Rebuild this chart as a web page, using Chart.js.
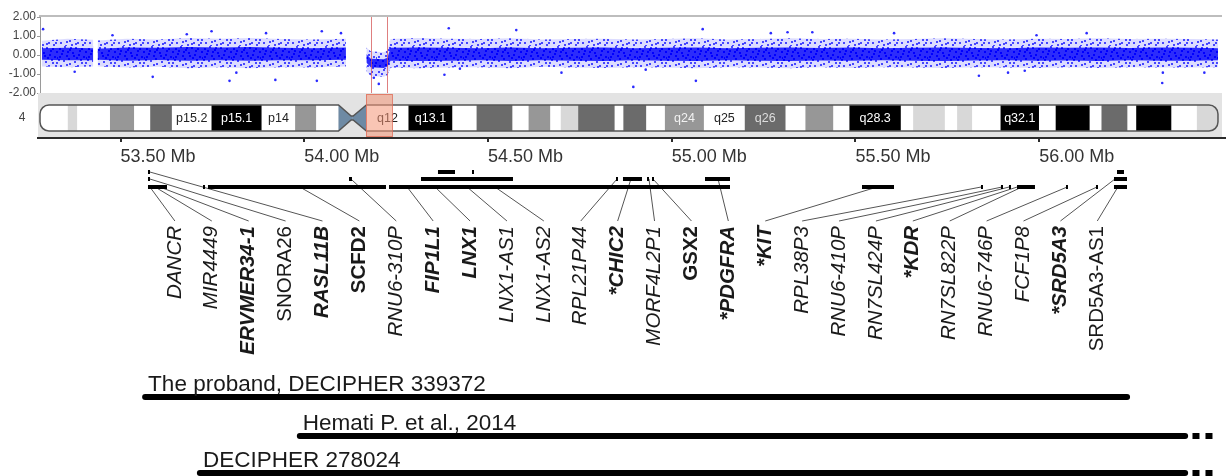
<!DOCTYPE html>
<html>
<head>
<meta charset="utf-8">
<title>4q12 deletion</title>
<script src="https://cdn.jsdelivr.net/npm/chart.js@4.4.1/dist/chart.umd.min.js"></script>
<style>
  body { margin: 0; background: #fff; }
  #figure { position: relative; width: 1226px; height: 476px; overflow: hidden; }
  #figure canvas { position: absolute; left: 0; }
</style>
</head>
<body>
<div id="figure">
  <canvas id="ratioChart" width="1226" height="140" style="top:0"></canvas>
  <canvas id="axisChart" width="1226" height="80" style="top:100px"></canvas>
  <canvas id="geneChart" width="1226" height="336" style="top:140px"></canvas>
</div>
<script>
// ---- chr4 array CGH, log2 ratio (x = position on chr4, Mb) ----
var chrLength = 190.2;
var bandPos = [0.3, 4.5, 8.6, 8.9, 9.3, 14, 19, 24, 29, 34, 39, 44, 49.4, 51, 52.7, 53.4, 55.5, 56.1, 56.6,
  61, 66, 71, 76, 81, 86, 91, 96, 101, 106, 111, 116, 121, 126, 131, 136, 141, 146, 151, 156, 161,
  166, 171, 176, 181, 186, 190.2];
// dense part of the probe cloud (core) and the sparse edge (halo)
var haloHi = [0.75, 0.85, 0.80, null, 0.76, 0.85, 0.82, 0.90, 0.86, 0.90, 0.84, 0.82, 0.85, null, 0.40,
  0.20, 0.15, 0.25, 0.84, 0.90, 0.86, 0.84, 0.88, 0.82, 0.84, 0.86, 0.82, 0.84, 0.88, 0.82,
  0.84, 0.88, 0.84, 0.86, 0.82, 0.84, 0.88, 0.84, 0.82, 0.86, 0.84, 0.88, 0.84, 0.86, 0.84, 0.82];
var coreHi = [0.35, 0.38, 0.35, null, 0.33, 0.40, 0.38, 0.42, 0.40, 0.42, 0.38, 0.36, 0.40, null, 0.05,
  -0.20, -0.22, -0.15, 0.38, 0.40, 0.38, 0.36, 0.40, 0.35, 0.38, 0.40, 0.36, 0.38, 0.40, 0.36,
  0.38, 0.40, 0.37, 0.39, 0.36, 0.38, 0.40, 0.37, 0.36, 0.39, 0.38, 0.40, 0.37, 0.39, 0.38, 0.36];
var coreLo = [-0.25, -0.28, -0.27, null, -0.25, -0.30, -0.26, -0.30, -0.28, -0.30, -0.27, -0.28, -0.25, null, -0.40,
  -0.65, -0.68, -0.60, -0.30, -0.32, -0.30, -0.28, -0.32, -0.27, -0.30, -0.31, -0.28, -0.30, -0.32, -0.28,
  -0.30, -0.31, -0.29, -0.30, -0.28, -0.30, -0.31, -0.29, -0.28, -0.30, -0.29, -0.31, -0.28, -0.30, -0.30, -0.28];
var haloLo = [-0.60, -0.65, -0.60, null, -0.60, -0.66, -0.62, -0.70, -0.64, -0.70, -0.64, -0.66, -0.60, null, -0.85,
  -1.10, -1.15, -1.05, -0.66, -0.70, -0.66, -0.64, -0.70, -0.62, -0.66, -0.68, -0.64, -0.66, -0.70, -0.64,
  -0.66, -0.70, -0.64, -0.68, -0.64, -0.66, -0.68, -0.64, -0.66, -0.68, -0.64, -0.68, -0.64, -0.66, -0.66, -0.64];
var outlierPos = [0.5, 5.6, 11.7, 18.2, 23.7, 27.7, 30.6, 31.7, 36.5, 38.0, 44.7, 45.5, 48.6, 53.9, 54.7,
  65.3, 66.0, 67.8, 76.9, 84.2, 95.8, 97.8, 105.9, 107.0, 118.0, 120.7, 124.7, 137.9, 151.6, 156.3,
  159.0, 160.9, 169.0, 181.2, 181.3, 188.0];
var outlierVal = [1.36, -0.88, 1.04, -1.15, 1.09, 1.25, -1.36, -0.93, 1.15, -1.31, -1.36, 1.25, 1.15, -1.20, -1.52,
  -1.04, 1.41, -0.72, 1.31, -0.93, -1.68, -0.77, -1.36, 1.36, 1.15, 1.20, 1.20, 1.15, -1.09, -0.93,
  -0.83, 1.04, 1.15, -1.47, -0.93, -0.93];
var delStart = 53.4, delEnd = 56.1;
var logTicks = [-2, -1, 0, 1, 2];

// ---- chr4 cytobands ----
var cytoName = ['p16.3', 'p16.2', 'p16.1', 'p15.33', 'p15.32', 'p15.31', 'p15.2', 'p15.1', 'p14', 'p13', 'p12', 'p11', 'q11',
  'q12', 'q13.1', 'q13.2', 'q13.3', 'q21.1', 'q21.21', 'q21.22', 'q21.23', 'q21.3', 'q22.1', 'q22.2', 'q22.3', 'q24', 'q25',
  'q26', 'q27', 'q28.1', 'q28.2', 'q28.3', 'q31.1', 'q31.21', 'q31.22', 'q31.23', 'q31.3', 'q32.1', 'q32.2', 'q32.3', 'q33',
  'q34.1', 'q34.2', 'q34.3', 'q35.1', 'q35.2'];
var cytoStart = [0, 4.5, 6.0, 11.3, 15.2, 17.8, 21.3, 27.7, 35.8, 41.2, 44.6, 48.2, 50.4,
  52.7, 59.5, 66.6, 70.5, 76.3, 78.9, 82.4, 84.1, 86.9, 92.8, 94.2, 97.9, 100.9, 107.2,
  113.8, 120.4, 123.6, 128.1, 130.7, 139.0, 141.0, 146.1, 148.1, 150.5, 155.1, 161.3, 164.0, 169.5,
  171.4, 175.6, 177.0, 182.7, 186.8];
var cytoStain = ['gneg', 'gpos25', 'gneg', 'gpos50', 'gneg', 'gpos75', 'gneg', 'gpos100', 'gneg', 'gpos50', 'gneg', 'acen', 'acen',
  'gneg', 'gpos100', 'gneg', 'gpos75', 'gneg', 'gpos50', 'gneg', 'gpos25', 'gpos75', 'gneg', 'gpos75', 'gneg', 'gpos50', 'gneg',
  'gpos75', 'gneg', 'gpos50', 'gneg', 'gpos100', 'gneg', 'gpos25', 'gneg', 'gpos25', 'gneg', 'gpos100', 'gneg', 'gpos100', 'gneg',
  'gpos75', 'gneg', 'gpos100', 'gneg', 'gpos25'];
var cytoLabelled = ['p15.2', 'p15.1', 'p14', 'q12', 'q13.1', 'q24', 'q25', 'q26', 'q28.3', 'q32.1'];

// ---- region zoom (Mb) ----
var mbTicks = [53.5, 54.0, 54.5, 55.0, 55.5, 56.0];
// drawn gene features: start, end, row (0 main line, 1 upper, 2 top)
var featStart = [53.5748, 53.5748, 53.5748, 53.7245, 53.738, 54.1218, 54.2306, 54.3177, 54.3639, 54.4565, 54.8483, 54.8673,
  54.9327, 54.9463, 55.0905, 55.5177, 55.8415, 55.8959, 55.9177, 55.9395, 56.0728, 56.1544, 56.2034, 56.2034, 56.2116];
var featEnd = [53.5803, 53.5803, 53.6265, 53.7300, 54.2224, 54.1299, 55.1585, 54.5680, 54.4102, 54.4619, 54.8537, 54.9190,
  54.9381, 54.9517, 55.1585, 55.6048, 55.8469, 55.9014, 55.9231, 55.9884, 56.0782, 56.1599, 56.2388, 56.2388, 56.2306];
var featLevel = [2, 1, 0, 0, 0, 1, 0, 1, 2, 2, 1, 1, 1, 1, 1, 0, 0, 0, 0, 0, 0, 0, 0, 1, 2];

var geneNames = ['DANCR', 'MIR4449', 'ERVMER34-1', 'SNORA26', 'RASL11B', 'SCFD2', 'RNU6-310P', 'FIP1L1', 'LNX1', 'LNX1-AS1',
  'LNX1-AS2', 'RPL21P44', '*CHIC2', 'MORF4L2P1', 'GSX2', '*PDGFRA', '*KIT', 'RPL38P3', 'RNU6-410P', 'RN7SL424P', '*KDR',
  'RN7SL822P', 'RNU6-746P', 'FCF1P8', '*SRD5A3', 'SRD5A3-AS1'];
var geneAnchor = [53.580, 53.594, 53.607, 53.580, 53.580, 53.988, 54.127, 54.280, 54.356, 54.443, 54.519, 54.851, 54.889,
  54.938, 54.949, 55.126, 55.559, 55.842, 55.899, 55.918, 55.940, 55.953, 56.076, 56.157, 56.206, 56.214];
var geneLevel = [0, 0, 0, 1, 2, 0, 1, 0, 0, 0, 0, 1, 1, 1, 1, 1, 0, 0, 0, 0, 0, 0, 0, 0, 1, 0];
var geneStyle = ['i', 'i', 'bi', 'n', 'bi', 'b', 'i', 'bi', 'bi', 'i', 'i', 'i', 'bi', 'i', 'b', 'bi', 'bi', 'i', 'i', 'i', 'bi',
  'i', 'i', 'i', 'bi', 'n'];

// ---- deletions compared ----
var caseNames = ['The proband, DECIPHER 339372', 'Hemati P. et al., 2014', 'DECIPHER 278024'];
var caseStart = [53.567, 53.988, 53.716];
var caseEnd = [56.239, 56.397, 56.397];
var caseOpenEnd = [false, true, true];

// ---- layout ----
var FONT = "'Liberation Sans', Arial, sans-serif";
Chart.defaults.font.family = FONT;
var mbMin = 53.2755, mbMax = 56.5082;
var labelSlot0 = 53.648, labelSlotStep = 0.1004;
var rowY = { top: 32, upper: 39, main: 47, connectorEnd: 81, labelTop: 86 };
var levelRow = [rowY.main, rowY.upper, rowY.top];
var caseRow = [257, 296, 333];
var stainColor = { gneg: '#ffffff', gpos25: '#d8d8d8', gpos50: '#979797', gpos75: '#6b6b6b', gpos100: '#000000', acen: '#6e8aa4' };
var stainText = { gneg: '#222', gpos25: '#222', gpos50: '#f2f2f2', gpos75: '#dddddd', gpos100: '#ffffff', acen: '#fff' };
// texture tile for the sparse edge of the probe cloud
var speckleTile = [[1, 2], [6, 0], [11, 3], [17, 1], [23, 2], [27, 5], [3, 7], [8, 9], [14, 6], [20, 8], [25, 10], [0, 13],
  [5, 14], [10, 12], [16, 15], [22, 13], [27, 16], [2, 19], [8, 18], [13, 21], [19, 19], [24, 21], [11, 17], [18, 11],
  [4, 4], [26, 19], [15, 9], [21, 4], [9, 5], [1, 10], [12, 1], [7, 22], [23, 16], [17, 20], [28, 11]];

function slotMb(i) { return labelSlot0 + i * labelSlotStep; }
function xy(xs, ys) { return xs.map(function (p, i) { return { x: p, y: ys[i] }; }); }
function speckle(tint, dot) {
  var c = document.createElement('canvas');
  c.width = 29; c.height = 23;
  var g = c.getContext('2d');
  g.fillStyle = tint; g.fillRect(0, 0, c.width, c.height);
  g.fillStyle = dot;
  speckleTile.forEach(function (d) { g.fillRect(d[0], d[1], 2, 2); });
  return g.createPattern(c, 'repeat');
}

var quiet = { legend: { display: false }, tooltip: { enabled: false } };

// ---------- top: log2 ratio + ideogram ----------
var ideogramPlugin = {
  id: 'ideogram',
  afterDatasetsDraw: function (chart) {
    var ctx = chart.ctx, x = chart.scales.x, a = chart.chartArea;
    ctx.save();
    ctx.strokeStyle = 'rgba(215,95,95,0.8)';
    ctx.lineWidth = 1;
    [delStart, delEnd].forEach(function (v) {
      var px = Math.round(x.getPixelForValue(v)) + 0.5;
      ctx.beginPath(); ctx.moveTo(px, a.top); ctx.lineTo(px, a.bottom); ctx.stroke();
    });
    ctx.restore();
  },
  afterDraw: function (chart) {
    var ctx = chart.ctx, x = chart.scales.x, a = chart.chartArea;
    var panelTop = a.bottom, panelBottom = chart.height - 3;
    var top = panelTop + 12, bottom = panelBottom - 6, mid = (top + bottom) / 2, r = 9;
    ctx.save();
    // frame
    ctx.fillStyle = '#bdbdbd';
    ctx.fillRect(a.left - 1, a.top - 2, a.right - a.left + 1, 2);
    ctx.fillStyle = '#e3e3e3';
    ctx.fillRect(a.left - 2, panelTop, a.right - a.left + 2, panelBottom - panelTop);

    var x0 = x.getPixelForValue(0), x1 = x.getPixelForValue(chrLength);
    var c1 = x.getPixelForValue(cytoStart[cytoStain.indexOf('acen')]);
    var cm = x.getPixelForValue(cytoStart[cytoStain.lastIndexOf('acen')]);
    var c2 = x.getPixelForValue(cytoStart[cytoStain.lastIndexOf('acen') + 1]);
    function outline() {
      ctx.beginPath();
      ctx.moveTo(x0 + r, top);
      ctx.lineTo(c1, top); ctx.lineTo(cm - 1, mid - 2); ctx.lineTo(cm + 1, mid - 2); ctx.lineTo(c2, top);
      ctx.lineTo(x1 - r, top);
      ctx.arcTo(x1, top, x1, top + r, r); ctx.lineTo(x1, bottom - r); ctx.arcTo(x1, bottom, x1 - r, bottom, r);
      ctx.lineTo(c2, bottom); ctx.lineTo(cm + 1, mid + 2); ctx.lineTo(cm - 1, mid + 2); ctx.lineTo(c1, bottom);
      ctx.lineTo(x0 + r, bottom);
      ctx.arcTo(x0, bottom, x0, bottom - r, r); ctx.lineTo(x0, top + r); ctx.arcTo(x0, top, x0 + r, top, r);
      ctx.closePath();
    }
    ctx.save();
    outline(); ctx.clip();
    cytoName.forEach(function (n, i) {
      var s = x.getPixelForValue(cytoStart[i]);
      var e = x.getPixelForValue(i + 1 < cytoStart.length ? cytoStart[i + 1] : chrLength);
      ctx.fillStyle = stainColor[cytoStain[i]];
      ctx.fillRect(s, top, e - s, bottom - top);
    });
    ctx.font = '12.5px ' + FONT;
    ctx.textAlign = 'center'; ctx.textBaseline = 'middle';
    cytoName.forEach(function (n, i) {
      if (cytoLabelled.indexOf(n) < 0) return;
      var s = x.getPixelForValue(cytoStart[i]);
      var e = x.getPixelForValue(i + 1 < cytoStart.length ? cytoStart[i + 1] : chrLength);
      ctx.fillStyle = stainText[cytoStain[i]];
      ctx.fillText(n, (s + e) / 2, mid + 1);
    });
    ctx.restore();
    outline();
    ctx.strokeStyle = '#555'; ctx.lineWidth = 1.5; ctx.stroke();

    // deleted region highlight
    var h0 = x.getPixelForValue(delStart - 0.75), h1 = x.getPixelForValue(delEnd + 0.75);
    ctx.fillStyle = 'rgba(244,150,118,0.55)';
    ctx.fillRect(h0, panelTop + 1, h1 - h0, panelBottom - panelTop - 1);
    ctx.strokeStyle = 'rgba(222,110,90,0.8)'; ctx.lineWidth = 1;
    ctx.strokeRect(Math.round(h0) + 0.5, panelTop + 1.5, Math.round(h1 - h0), panelBottom - panelTop - 2);

    ctx.fillStyle = '#444'; ctx.font = '12px ' + FONT;
    ctx.textAlign = 'center'; ctx.textBaseline = 'middle';
    ctx.fillText('4', 22, mid);
    ctx.restore();
  }
};

new Chart(document.getElementById('ratioChart'), {
  type: 'line',
  data: {
    datasets: [
      { data: xy(bandPos, haloHi), fill: '+1', backgroundColor: speckle('rgba(40,40,255,0.16)', 'rgba(20,20,255,0.75)'), borderColor: 'rgba(0,0,0,0)', borderWidth: 0, pointRadius: 0, spanGaps: false, order: 4 },
      { data: xy(bandPos, haloLo), fill: false, borderColor: 'rgba(0,0,0,0)', borderWidth: 0, pointRadius: 0, spanGaps: false, order: 4 },
      { data: xy(bandPos, coreHi), fill: '+1', backgroundColor: speckle('rgba(0,0,250,0.80)', 'rgba(0,0,255,1)'), borderColor: 'rgba(0,0,0,0)', borderWidth: 0, pointRadius: 0, spanGaps: false, order: 2 },
      { data: xy(bandPos, coreLo), fill: false, borderColor: 'rgba(0,0,0,0)', borderWidth: 0, pointRadius: 0, spanGaps: false, order: 2 },
      { type: 'scatter', data: xy(outlierPos, outlierVal), pointRadius: 1.3, pointBackgroundColor: '#2a2aff', pointBorderWidth: 0, showLine: false, order: 0 }
    ]
  },
  options: {
    responsive: false, animation: false,
    layout: { padding: { left: 0, right: 0, top: 17, bottom: 47 } },
    plugins: quiet,
    scales: {
      x: { type: 'linear', min: 0, max: 190.85, display: false },
      y: {
        min: -2, max: 2,
        afterBuildTicks: function (s) { s.ticks = logTicks.map(function (v) { return { value: v }; }); },
        ticks: { color: '#444', font: { size: 12 }, padding: 1, callback: function (v) { return v.toFixed(2); } },
        grid: { drawOnChartArea: false, tickLength: 3, color: '#9a9a9a' },
        border: { color: '#9a9a9a' },
        afterFit: function (s) { s.width = 40; }
      }
    }
  },
  plugins: [ideogramPlugin]
});

// ---------- Mb axis ----------
new Chart(document.getElementById('axisChart'), {
  type: 'line',
  data: { datasets: [] },
  options: {
    responsive: false, animation: false,
    layout: { padding: { left: 38, right: 0, top: 0, bottom: 0 } },
    plugins: quiet,
    scales: {
      x: {
        type: 'linear', min: mbMin, max: mbMax, position: 'bottom',
        border: { display: true, color: '#2b2b2b', width: 2 },
        grid: { drawOnChartArea: false, drawTicks: true, tickLength: 4, color: '#2b2b2b', lineWidth: 2 },
        ticks: { align: 'start', padding: 4, color: '#333', font: { size: 18 }, maxRotation: 0, autoSkip: false,
          callback: function (v) { return v.toFixed(2) + ' Mb'; } },
        afterBuildTicks: function (s) { s.ticks = mbTicks.map(function (v) { return { value: v }; }); },
        afterFit: function (s) { s.height = 42; }
      },
      y: { display: false }
    }
  }
});

// ---------- genes + compared deletions ----------
var featData = [];
featStart.forEach(function (s, i) {
  var row = levelRow[featLevel[i]];
  featData.push({ x: s, y: row }, { x: featEnd[i], y: row }, { x: featEnd[i], y: null });
});
var connData = [];
geneNames.forEach(function (n, i) {
  connData.push({ x: geneAnchor[i], y: levelRow[geneLevel[i]] }, { x: slotMb(i), y: rowY.connectorEnd }, { x: slotMb(i), y: null });
});
var geneSets = [
  { data: featData, borderColor: '#000', borderWidth: 4, borderCapStyle: 'butt', pointRadius: 0, spanGaps: false, order: 0 },
  { data: connData, borderColor: '#555', borderWidth: 1, pointRadius: 0, spanGaps: false, order: 1 }
];
caseNames.forEach(function (n, i) {
  geneSets.push({ data: [{ x: caseStart[i], y: caseRow[i] }, { x: caseEnd[i], y: caseRow[i] }],
    borderColor: '#000', borderWidth: 6, borderCapStyle: 'round', pointRadius: 0, order: 0 });
  if (caseOpenEnd[i]) {
    geneSets.push({ data: [{ x: caseEnd[i] + 0.02, y: caseRow[i] }, { x: caseEnd[i] + 0.085, y: caseRow[i] }],
      borderColor: '#000', borderWidth: 6, borderDash: [7, 6], borderCapStyle: 'butt', pointRadius: 0, order: 0 });
  }
});

var textPlugin = {
  id: 'geneText',
  afterDatasetsDraw: function (chart) {
    var ctx = chart.ctx, x = chart.scales.x, y = chart.scales.y;
    ctx.save();
    ctx.fillStyle = '#1a1a1a';
    geneNames.forEach(function (name, i) {
      var st = geneStyle[i];
      ctx.font = (st.indexOf('i') >= 0 ? 'italic ' : '') + (st.indexOf('b') >= 0 ? 'bold ' : '') + '20.5px ' + FONT;
      ctx.save();
      ctx.translate(x.getPixelForValue(slotMb(i)), y.getPixelForValue(rowY.labelTop));
      ctx.rotate(-Math.PI / 2);
      ctx.textAlign = 'right'; ctx.textBaseline = 'middle';
      ctx.fillText(name, 0, 0);
      ctx.restore();
    });
    ctx.font = '22.5px ' + FONT;
    ctx.textAlign = 'left'; ctx.textBaseline = 'alphabetic';
    caseNames.forEach(function (n, i) {
      ctx.fillText(n, x.getPixelForValue(caseStart[i]) + 3, y.getPixelForValue(caseRow[i]) - 6);
    });
    ctx.restore();
  }
};

new Chart(document.getElementById('geneChart'), {
  type: 'line',
  data: { datasets: geneSets },
  options: {
    responsive: false, animation: false,
    layout: { padding: { left: 38, right: 0, top: 0, bottom: 0 } },
    plugins: quiet,
    scales: {
      x: { type: 'linear', min: mbMin, max: mbMax, display: false },
      y: { type: 'linear', min: 0, max: 336, reverse: true, display: false }
    }
  },
  plugins: [textPlugin]
});
</script>
</body>
</html>
